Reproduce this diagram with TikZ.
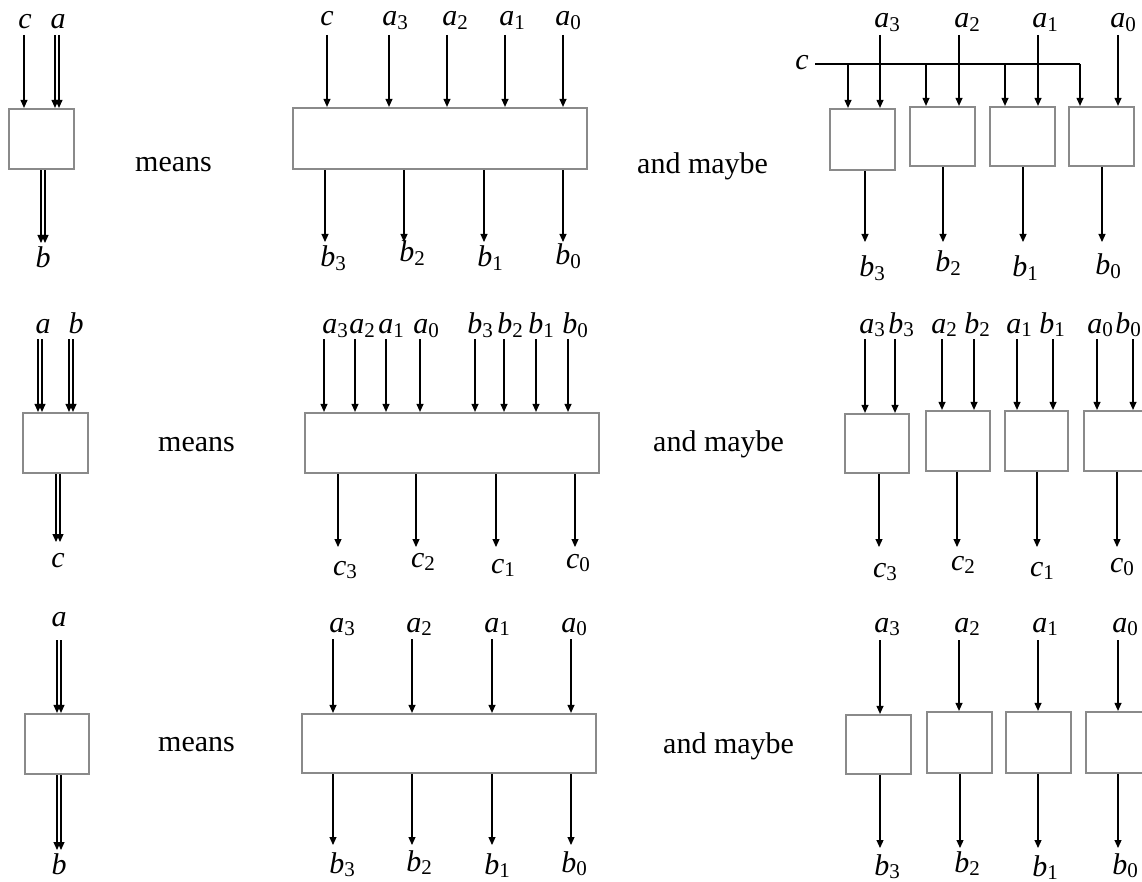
\documentclass[tikz,border=0pt]{standalone}
\usepackage{fontspec}
\setmainfont{Liberation Serif}
\usetikzlibrary{arrows.meta}
\definecolor{boxgray}{HTML}{8A8A8A}
% italic variable with an upright digit index
\newcommand\vr[2]{\textit{#1}\raisebox{-3.5pt}{\fontsize{21}{21}\selectfont #2}}
% wire entering the top of a block from height #2
\newcommand\inw[3]{\draw[wire] ({#1},#2) -- ({#1},#2 |- #3.north);}
% wire leaving the bottom of a block, ending at height #2
\newcommand\outw[3]{\draw[wire] ({#1},#2 |- #3.south) -- ({#1},#2);}
% bundled (double) wires
\newcommand\dinw[3]{\inw{#1-2}{#2}{#3}\inw{#1+2}{#2}{#3}}
\newcommand\doutw[3]{\outw{#1-2}{#2}{#3}\outw{#1+2}{#2}{#3}}
% block from corner (#2,#3) to corner (#4,#5)
\newcommand\blockat[5]{\node[blk, minimum width={(#4-#2)*1pt}, minimum height={(#5-#3)*1pt}] (#1) at ({(#2+#4)/2},{(#3+#5)/2}) {};}
\begin{document}
\begin{tikzpicture}[x=1pt,y=-1pt,
  blk/.style={draw=boxgray, line width=2.2pt, fill=white, inner sep=0pt},
  wire/.style={line width=1.1pt, -{Triangle[length=8pt,width=7pt]}},
  lab/.style={anchor=base, inner sep=0pt, font=\fontsize{30}{34}\selectfont},
  word/.style={anchor=base west, inner sep=0pt, font=\fontsize{30}{34}\selectfont}]
\useasboundingbox (0,0) rectangle (1142,882);
\clip (0,0) rectangle (1142,882);

% ---------------- row 1: c, a -> b ----------------
\blockat{L1}{9}{109}{74}{169}
\node[lab] (L1c) at (25,29) {\textit{c}};
\node[lab] (L1a) at (58,29) {\textit{a}};
\node[lab] (L1b) at (43,268) {\textit{b}};
\inw{24}{35}{L1}
\dinw{57}{35}{L1}
\doutw{43}{243}{L1}
\node[word] (m1) at (135,172) {means};

\blockat{M1}{293}{108}{587}{169}
\node[lab] at (327,26) {\textit{c}};
\node[lab] at (395,26) {\vr{a}{3}};
\node[lab] at (455,26) {\vr{a}{2}};
\node[lab] at (512,26) {\vr{a}{1}};
\node[lab] at (568,26) {\vr{a}{0}};
\foreach \x in {327,389,447,505,563} {\inw{\x}{35}{M1}}
\foreach \x in {325,404,484,563} {\outw{\x}{242}{M1}}
\node[lab] at (333,267) {\vr{b}{3}};
\node[lab] at (412,262) {\vr{b}{2}};
\node[lab] at (490,267) {\vr{b}{1}};
\node[lab] at (568,265) {\vr{b}{0}};
\node[word] (am1) at (637,174) {and maybe};

\blockat{R1a}{830}{109}{895}{170}
\blockat{R1b}{910}{107}{975}{166}
\blockat{R1c}{990}{107}{1055}{166}
\blockat{R1d}{1069}{107}{1134}{166}
\node[lab] (R1cl) at (802,70) {\textit{c}};
\coordinate (cbus) at (815,64);
\draw[line width=1.1pt] (cbus) -- (1080,64);
\draw[wire] (1080,64) -- (1080,64 |- R1d.north);
\inw{848}{64}{R1a}
\inw{926}{64}{R1b}
\inw{1005}{64}{R1c}
\inw{880}{35}{R1a}
\inw{959}{35}{R1b}
\inw{1038}{35}{R1c}
\inw{1118}{35}{R1d}
\node[lab] at (887,28) {\vr{a}{3}};
\node[lab] at (967,28) {\vr{a}{2}};
\node[lab] at (1045,28) {\vr{a}{1}};
\node[lab] at (1123,28) {\vr{a}{0}};
\outw{865}{242}{R1a}
\outw{943}{242}{R1b}
\outw{1023}{242}{R1c}
\outw{1102}{242}{R1d}
\node[lab] at (872,277) {\vr{b}{3}};
\node[lab] at (948,272) {\vr{b}{2}};
\node[lab] at (1025,277) {\vr{b}{1}};
\node[lab] at (1108,275) {\vr{b}{0}};

% ---------------- row 2: a, b -> c ----------------
\blockat{L2}{23}{413}{88}{473}
\node[lab] at (43,334) {\textit{a}};
\node[lab] at (76,334) {\textit{b}};
\node[lab] at (58,567) {\textit{c}};
\dinw{40}{339}{L2}
\dinw{71}{339}{L2}
\doutw{58}{542}{L2}
\node[word] (m2) at (158,451) {means};

\blockat{M2}{305}{413}{599}{473}
\node[lab] at (335,334) {\vr{a}{3}};
\node[lab] at (362,334) {\vr{a}{2}};
\node[lab] at (391,334) {\vr{a}{1}};
\node[lab] at (426,334) {\vr{a}{0}};
\node[lab] at (480,334) {\vr{b}{3}};
\node[lab] at (510,334) {\vr{b}{2}};
\node[lab] at (541,334) {\vr{b}{1}};
\node[lab] at (575,334) {\vr{b}{0}};
\foreach \x in {324,355,386,420,475,504,536,568} {\inw{\x}{339}{M2}}
\foreach \x in {338,416,496,575} {\outw{\x}{547}{M2}}
\node[lab] at (345,575) {\vr{c}{3}};
\node[lab] at (423,567) {\vr{c}{2}};
\node[lab] at (503,573) {\vr{c}{1}};
\node[lab] at (578,568) {\vr{c}{0}};
\node[word] (am2) at (653,451) {and maybe};

\blockat{R2a}{845}{414}{909}{473}
\blockat{R2b}{926}{411}{990}{471}
\blockat{R2c}{1005}{411}{1068}{471}
\blockat{R2d}{1084}{411}{1148}{471}
\node[lab] at (872,333) {\vr{a}{3}};
\node[lab] at (901,333) {\vr{b}{3}};
\node[lab] at (944,333) {\vr{a}{2}};
\node[lab] at (977,333) {\vr{b}{2}};
\node[lab] at (1019,333) {\vr{a}{1}};
\node[lab] at (1052,333) {\vr{b}{1}};
\node[lab] at (1100,333) {\vr{a}{0}};
\node[lab] at (1128,333) {\vr{b}{0}};
\inw{865}{339}{R2a}\inw{895}{339}{R2a}
\inw{942}{339}{R2b}\inw{974}{339}{R2b}
\inw{1017}{339}{R2c}\inw{1053}{339}{R2c}
\inw{1097}{339}{R2d}\inw{1133}{339}{R2d}
\outw{879}{547}{R2a}
\outw{957}{547}{R2b}
\outw{1037}{547}{R2c}
\outw{1117}{547}{R2d}
\node[lab] at (885,577) {\vr{c}{3}};
\node[lab] at (963,570) {\vr{c}{2}};
\node[lab] at (1042,576) {\vr{c}{1}};
\node[lab] at (1122,572) {\vr{c}{0}};

% ---------------- row 3: a -> b ----------------
\blockat{L3}{25}{714}{89}{774}
\node[lab] at (59,626) {\textit{a}};
\node[lab] at (59,874) {\textit{b}};
\dinw{59}{640}{L3}
\doutw{59}{850}{L3}
\node[word] (m3) at (158,751) {means};

\blockat{M3}{302}{714}{596}{773}
\node[lab] at (342,632) {\vr{a}{3}};
\node[lab] at (419,632) {\vr{a}{2}};
\node[lab] at (497,632) {\vr{a}{1}};
\node[lab] at (574,632) {\vr{a}{0}};
\foreach \x in {333,412,492,571} {\inw{\x}{639}{M3}\outw{\x}{845}{M3}}
\node[lab] at (342,873) {\vr{b}{3}};
\node[lab] at (419,871) {\vr{b}{2}};
\node[lab] at (497,874) {\vr{b}{1}};
\node[lab] at (574,872) {\vr{b}{0}};
\node[word] (am3) at (663,753) {and maybe};

\blockat{R3a}{846}{715}{911}{774}
\blockat{R3b}{927}{712}{992}{773}
\blockat{R3c}{1006}{712}{1071}{773}
\blockat{R3d}{1086}{712}{1151}{773}
\node[lab] at (887,632) {\vr{a}{3}};
\node[lab] at (967,632) {\vr{a}{2}};
\node[lab] at (1045,632) {\vr{a}{1}};
\node[lab] at (1125,632) {\vr{a}{0}};
\inw{880}{640}{R3a}\outw{880}{848}{R3a}
\inw{959}{640}{R3b}\outw{960}{848}{R3b}
\inw{1038}{640}{R3c}\outw{1038}{848}{R3c}
\inw{1118}{640}{R3d}\outw{1118}{848}{R3d}
\node[lab] at (887,875) {\vr{b}{3}};
\node[lab] at (967,872) {\vr{b}{2}};
\node[lab] at (1045,876) {\vr{b}{1}};
\node[lab] at (1125,874) {\vr{b}{0}};
\end{tikzpicture}
\end{document}
